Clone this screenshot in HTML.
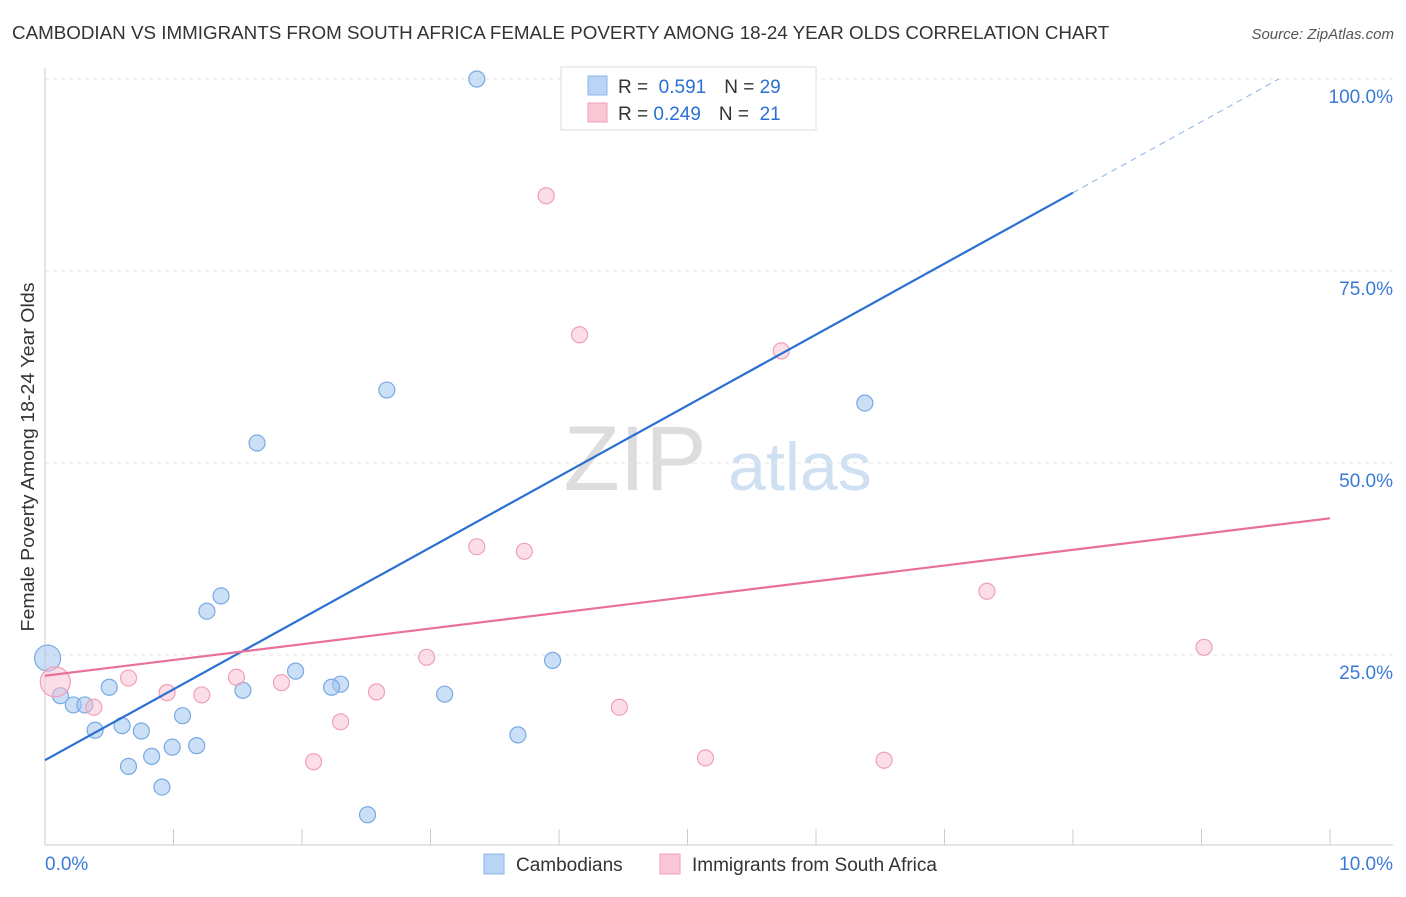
<!DOCTYPE html>
<html><head><meta charset="utf-8"><style>
body{margin:0;background:#fff;font-family:"Liberation Sans",sans-serif;}
svg text{font-family:"Liberation Sans",sans-serif;}
</style></head><body>
<svg width="1406" height="892" id="c">
<text x="12" y="39" font-size="18.8" fill="#333">CAMBODIAN VS IMMIGRANTS FROM SOUTH AFRICA FEMALE POVERTY AMONG 18-24 YEAR OLDS CORRELATION CHART</text>
<text x="1394" y="39" font-size="15" fill="#555" text-anchor="end" font-style="italic">Source: ZipAtlas.com</text>
<text x="34" y="457" font-size="18" fill="#333" text-anchor="middle" textLength="349" lengthAdjust="spacingAndGlyphs" transform="rotate(-90 34 457)">Female Poverty Among 18-24 Year Olds</text>
<text x="635" y="490" font-size="92" fill="#ddd" text-anchor="middle" font-family="Liberation Serif">ZIP</text>
<text x="800" y="490" font-size="68" fill="#cfe0f3" text-anchor="middle">atlas</text>
<g id="grid"></g><g id="axes"></g><g id="pts"></g><g id="lines"></g>
<g>
<rect x="561" y="67" width="255" height="63" fill="#fff" stroke="#ddd"/>
<rect x="588" y="76" width="19" height="19" fill="#b9d4f5" stroke="#8db5e8"/>
<rect x="588" y="103" width="19" height="19" fill="#f9c7d6" stroke="#f0a0b8"/>
<text x="618" y="93" font-size="19" fill="#333">R = <tspan fill="#2a6fd4">&#160;0.591</tspan><tspan dx="18">N = </tspan><tspan fill="#2a6fd4">29</tspan></text>
<text x="618" y="120" font-size="19" fill="#333">R = <tspan fill="#2a6fd4">0.249</tspan><tspan dx="18">N = </tspan><tspan fill="#2a6fd4">&#160;21</tspan></text>
</g>
<g>
<rect x="484" y="854" width="20" height="20" fill="#b9d4f5" stroke="#8db5e8"/>
<text x="516" y="871" font-size="19" fill="#333">Cambodians</text>
<rect x="660" y="854" width="20" height="20" fill="#f9c7d6" stroke="#f0a0b8"/>
<text x="692" y="871" font-size="19" fill="#333">Immigrants from South Africa</text>
</g>
</svg>
<script>
const blueX=[3.36,2.66,1.65,6.38,1.37,1.26,3.95,1.95,2.30,2.23,1.54,3.11,0.50,0.12,0.22,0.31,1.07,0.39,0.60,0.75,3.68,0.99,1.18,0.83,0.65,0.91,2.51,0.02];
const blueY=[100,59.5,52.6,57.8,32.7,30.7,24.3,22.9,21.2,20.8,20.4,19.9,20.8,19.7,18.5,18.5,17.1,15.2,15.8,15.1,14.6,13.0,13.2,11.8,10.5,7.8,4.2,24.6];
const pinkX=[3.90,4.16,5.73,3.36,3.73,7.33,9.02,2.97,1.49,0.65,1.84,0.95,1.22,2.58,0.38,4.47,2.30,2.09,5.14,6.53,0.08];
const pinkY=[84.8,66.7,64.6,39.1,38.5,33.3,26.0,24.7,22.1,22.0,21.4,20.1,19.8,20.2,18.2,18.2,16.3,11.1,11.6,11.3,21.5];
const yTicks=[25,50,75,100];
const yTickLabels=["25.0%","50.0%","75.0%","100.0%"];
const blueFit=[11.3,85.2];
const pinkFit=[22.3,42.8];
const X=v=>45+v*128.5, Y=v=>847-v*7.68;
const NS="http://www.w3.org/2000/svg";
function mk(p,t,a){const e=document.createElementNS(NS,t);for(const k in a)e.setAttribute(k,a[k]);document.getElementById(p).appendChild(e);return e;}
yTicks.forEach((t,i)=>{
 const l=mk('grid','line',{x1:45,x2:1393,y1:Y(t),y2:Y(t),stroke:'#e4e4e4','stroke-dasharray':'4,4'});
 
 
 const tx=mk('grid','text',{x:1393,y:Y(t)+24,'font-size':19,fill:'#3b7ad6','text-anchor':'end'});tx.textContent=yTickLabels[i];
 
 
});
mk('axes','line',{x1:45,x2:45,y1:68,y2:845,stroke:'#ccc'});
mk('axes','line',{x1:45,x2:1393,y1:845,y2:845,stroke:'#ccc'});
for(let i=1;i<=10;i++){const t=mk('axes','line',{x1:X(i),x2:X(i),y1:829,y2:845,stroke:'#ccc'});}
let a=mk('axes','text',{x:45,y:870,'font-size':19,fill:'#3b7ad6'});a.textContent='0.0%';

a=mk('axes','text',{x:1393,y:870,'font-size':19,fill:'#3b7ad6','text-anchor':'end'});a.textContent='10.0%';

blueX.forEach((x,i)=>{const c=mk('pts','circle',{cx:X(x),cy:Y(blueY[i]),r:i==27?13:8,fill:'rgba(160,196,240,0.55)',stroke:'#7aa9e3','stroke-width':1.2});
 });
pinkX.forEach((x,i)=>{const c=mk('pts','circle',{cx:X(x),cy:Y(pinkY[i]),r:i==20?15:8,fill:'rgba(248,190,208,0.5)',stroke:'#f0a0b8','stroke-width':1.2});
 });
const bs=(blueFit[1]-blueFit[0])/8;
let l=mk('lines','line',{x1:X(0),y1:Y(blueFit[0]),x2:X(8),y2:Y(blueFit[1]),stroke:'#2a6fd4','stroke-width':2.2});

const xe=(100-blueFit[0])/bs;
l=mk('lines','line',{x1:X(8),y1:Y(blueFit[1]),x2:X(xe),y2:Y(100),stroke:'#9bbce8','stroke-width':1.2,'stroke-dasharray':'6,5'});

l=mk('lines','line',{x1:X(0),y1:Y(pinkFit[0]),x2:X(10),y2:Y(pinkFit[1]),stroke:'#e8709a','stroke-width':2.2});

</script>
</body></html>
